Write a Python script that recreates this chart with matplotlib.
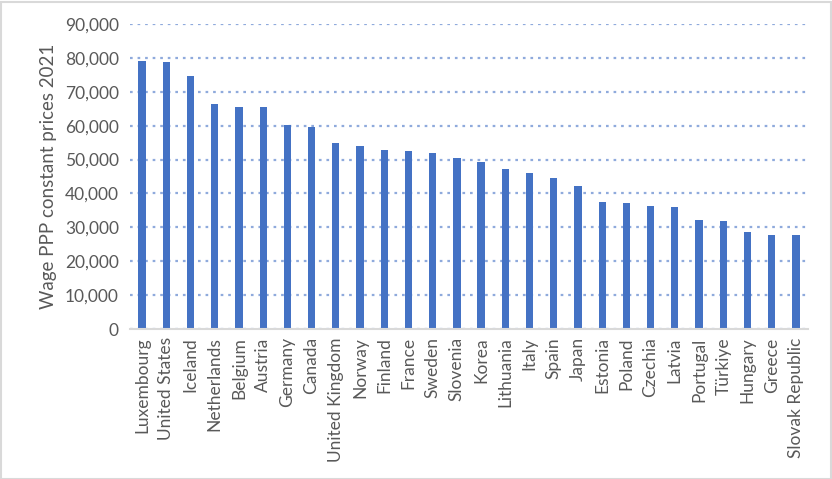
import matplotlib
matplotlib.use("Agg")
import matplotlib.pyplot as plt
from matplotlib.patches import Rectangle
from matplotlib.ticker import FuncFormatter

plt.rcParams["font.family"] = ["Lato", "DejaVu Sans"]

countries = [
    "Luxembourg", "United States", "Iceland", "Netherlands", "Belgium", "Austria",
    "Germany", "Canada", "United Kingdom", "Norway", "Finland", "France", "Sweden",
    "Slovenia", "Korea", "Lithuania", "Italy", "Spain", "Japan", "Estonia", "Poland",
    "Czechia", "Latvia", "Portugal", "Türkiye", "Hungary", "Greece", "Slovak Republic",
]
wages = [
    79000, 78800, 74600, 66400, 65500, 65500,
    60200, 59600, 54900, 54000, 52800, 52500, 51900,
    50400, 49200, 47100, 46000, 44500, 42100, 37400, 37100,
    36200, 35900, 32100, 31800, 28600, 27700, 27700,
]

BAR = "#4472C4"
GRID = "#8FAADC"
AXIS = "#D9D9D9"
TEXT = "#595959"

fig = plt.figure(figsize=(8.32, 4.79), dpi=100)
ax = fig.add_axes([130 / 832, 150 / 479, 678 / 832, 305 / 479])

x = range(len(countries))
ax.bar(x, wages, width=0.3, color=BAR, zorder=3)

ax.set_xlim(-0.5, len(countries) - 0.5)
ax.set_ylim(0, 90000)
ax.set_yticks(range(0, 90001, 10000))
ax.yaxis.set_major_formatter(FuncFormatter(lambda v, _: f"{int(v):,}"))
ax.grid(axis="y", color=GRID, linestyle=(0, (1.2, 2.2)), linewidth=1.6, zorder=0)

ax.set_xticks(list(x))
ax.set_xticklabels(countries, rotation=90)
ax.tick_params(length=0, colors=TEXT, labelsize=12.5)
ax.tick_params(axis="x", pad=6)
ax.tick_params(axis="y", pad=8)

for side in ("top", "right", "left"):
    ax.spines[side].set_visible(False)
ax.spines["bottom"].set_color(AXIS)
ax.spines["bottom"].set_linewidth(1.5)
ax.spines["bottom"].set_zorder(4)

ax.set_ylabel("Wage PPP constant prices 2021", color=TEXT, fontsize=13.5, labelpad=6)

fig.patches.append(Rectangle((0.5 / 832, 0.5 / 479), 830 / 832, 477 / 479,
                             transform=fig.transFigure, fill=False,
                             edgecolor=AXIS, linewidth=1.5))

fig.savefig("out.png", dpi=100)
